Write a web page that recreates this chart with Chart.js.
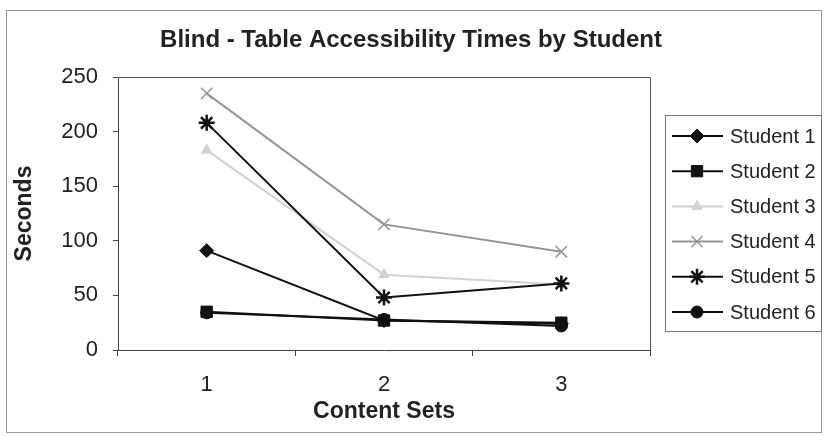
<!DOCTYPE html>
<html>
<head>
<meta charset="utf-8">
<script src="https://cdn.jsdelivr.net/npm/chart.js@4"></script>
<style>
  html, body { margin: 0; padding: 0; background: #fff; }
  #wrap { width: 825px; height: 436px; }
</style>
</head>
<body>
<div id="wrap"><canvas id="timesChart" width="825" height="436"></canvas></div>
<script>
// data
const contentSets = ["1", "2", "3"];
const student1 = [91, 27, 24];
const student2 = [35, 27, 25];
const student3 = [183, 69, 60];
const student4 = [235, 115, 90];
const student5 = [208, 48, 61];
const student6 = [34, 28, 22];
const yTicks = [0, 50, 100, 150, 200, 250];

const FONT = "'Liberation Sans', Arial, sans-serif";

function series(label, data, color, style, radius, width, order) {
    return {
        label: label,
        data: data,
        borderColor: color,
        backgroundColor: color,
        borderWidth: 2,
        pointStyle: style,
        pointRadius: radius,
        pointBorderWidth: width,
        pointBackgroundColor: color,
        pointBorderColor: color,
        tension: 0,
        order: order // later students drawn on top, like the original
    };
}

// frame, title, plot box and the line+marker legend
const decor = {
    id: "decor",
    beforeDraw(chart) {
        const ctx = chart.ctx;
        ctx.save();
        ctx.strokeStyle = "#9a9a9a";
        ctx.lineWidth = 1;
        ctx.strokeRect(6.5, 10.5, 815, 422);
        ctx.restore();
    },
    afterDraw(chart) {
        const ctx = chart.ctx;
        const a = chart.chartArea;
        ctx.save();
        // plot area box (top and right sides)
        ctx.strokeStyle = "#555";
        ctx.lineWidth = 1;
        ctx.beginPath();
        ctx.moveTo(a.left, a.top + 0.5);
        ctx.lineTo(a.right + 0.5, a.top + 0.5);
        ctx.lineTo(a.right + 0.5, a.bottom);
        ctx.stroke();

        // title
        ctx.fillStyle = "#222";
        ctx.font = "bold 24px " + FONT;
        ctx.textAlign = "center";
        ctx.textBaseline = "middle";
        ctx.fillText("Blind - Table Accessibility Times by Student", 411, 40);

        // legend
        ctx.strokeStyle = "#777";
        ctx.strokeRect(665.5, 115.5, 156, 216);
        chart.data.datasets.forEach((ds, i) => {
            const y = 136 + i * 35.2;
            ctx.strokeStyle = ds.borderColor;
            ctx.lineWidth = 2;
            ctx.beginPath();
            ctx.moveTo(672, y);
            ctx.lineTo(723, y);
            ctx.stroke();
            ctx.fillStyle = ds.pointBackgroundColor;
            ctx.strokeStyle = ds.pointBorderColor;
            ctx.lineWidth = ds.pointBorderWidth;
            Chart.helpers.drawPoint(ctx, {
                pointStyle: ds.pointStyle,
                radius: ds.pointRadius,
                rotation: 0,
                borderWidth: ds.pointBorderWidth
            }, 697, y);
            ctx.fillStyle = "#222";
            ctx.font = "20px " + FONT;
            ctx.textAlign = "left";
            ctx.fillText(ds.label, 730, y + 1);
        });
        ctx.restore();
    }
};

const ctx = document.getElementById("timesChart").getContext("2d");
new Chart(ctx, {
    type: "line",
    data: {
        labels: contentSets,
        datasets: [
            series("Student 1", student1, "#111", "rectRot", 7, 1, 6),
            series("Student 2", student2, "#111", "rect", 8, 1, 5),
            series("Student 3", student3, "#d2d2d2", "triangle", 6, 1, 4),
            series("Student 4", student4, "#959595", "crossRot", 8, 1.5, 3),
            series("Student 5", student5, "#111", "star", 8, 2.5, 2),
            series("Student 6", student6, "#111", "circle", 6, 1, 1)
        ]
    },
    options: {
        responsive: false,
        animation: false,
        layout: { padding: { left: 0, top: 77, right: 175, bottom: 0 } },
        plugins: {
            legend: { display: false },
            title: { display: false },
            tooltip: { enabled: false }
        },
        scales: {
            x: {
                offset: true,
                afterFit: (s) => { s.height = 86; },
                grid: { offset: true, drawOnChartArea: false, tickLength: 6, color: "#444" },
                border: { color: "#444", width: 1 },
                ticks: { color: "#222", font: { family: FONT, size: 22 }, padding: 16 },
                title: {
                    display: true,
                    text: "Content Sets",
                    color: "#222",
                    font: { family: FONT, size: 23, weight: "bold" },
                    padding: { top: 0, bottom: 11 }
                }
            },
            y: {
                min: 0,
                max: 250,
                afterFit: (s) => { s.width = 118; },
                afterBuildTicks: (s) => { s.ticks = yTicks.map(v => ({ value: v })); },
                grid: { drawOnChartArea: false, tickLength: 5, color: "#444" },
                border: { color: "#444", width: 1 },
                ticks: { color: "#222", font: { family: FONT, size: 22 }, padding: 15 },
                title: {
                    display: true,
                    text: "Seconds",
                    color: "#222",
                    font: { family: FONT, size: 23, weight: "bold" },
                    padding: { top: 11, bottom: 0 }
                }
            }
        }
    },
    plugins: [decor]
});
</script>
</body>
</html>
